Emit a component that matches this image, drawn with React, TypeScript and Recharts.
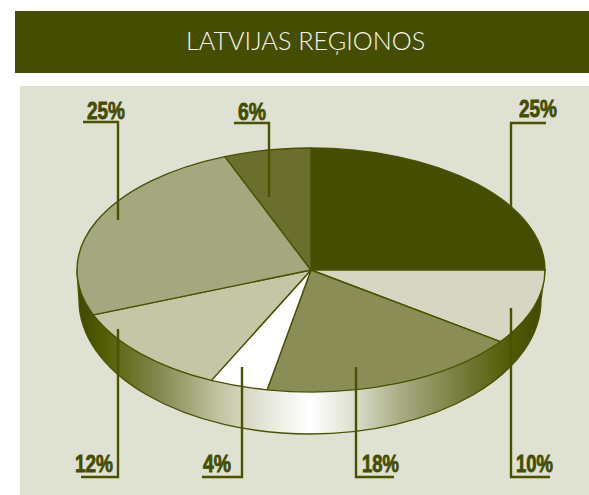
import React from "react";
import { PieChart, Pie, Cell } from "recharts";

const regions = ["A", "B", "C", "D", "E", "F", "G"];
const shares = [25, 10, 18, 4, 12, 25, 6];
const sliceColors = ["#454d00", "#d5d7c2", "#8a8d56", "#ffffff", "#c4c6a6", "#a4a87e", "#6b6f2d"];
const title = "LATVIJAS REĢIONOS";
const rimData = [{ name: "rim", value: 1 }];

const data = regions.map((name, i) => ({ name, value: shares[i] }));

const INK = "#4a5200";
const CX = 311;
const CY = 270;
const RX = 234;
const SQUASH = 122 / 234;

// leader layout per slice: elbow x, elbow y, tip y, far end of the shelf, text left, baseline y, text width
const leaders = [
  { x: 511, y: 123, tipY: 210, endX: 546, textX: 519, textY: 117, w: 38 },
  { x: 511, y: 477, tipY: 308, endX: 550, textX: 516, textY: 472, w: 37 },
  { x: 356, y: 477, tipY: 367, endX: 394, textX: 362, textY: 472, w: 37 },
  { x: 242, y: 477, tipY: 367, endX: 202, textX: 203, textY: 472, w: 28 },
  { x: 118, y: 477, tipY: 329, endX: 81, textX: 75, textY: 472, w: 38 },
  { x: 118, y: 122, tipY: 220, endX: 83, textX: 87, textY: 119, w: 38 },
  { x: 269, y: 123, tipY: 197, endX: 234, textX: 238, textY: 120, w: 28 },
];

const pt = (cx: number, cy: number, r: number, deg: number) => {
  const a = (deg * Math.PI) / 180;
  return [cx + r * Math.cos(a), cy - r * SQUASH * Math.sin(a)];
};

const EllipseSlice = (p: any) => {
  const { cx, cy, outerRadius: r, startAngle, endAngle, fill } = p;
  const [x0, y0] = pt(cx, cy, r, startAngle);
  const [x1, y1] = pt(cx, cy, r, endAngle);
  const large = Math.abs(startAngle - endAngle) > 180 ? 1 : 0;
  return (
    <path
      d={`M${cx},${cy}L${x0},${y0}A${r},${r * SQUASH} 0 ${large} 1 ${x1},${y1}Z`}
      fill={fill}
      stroke={INK}
      strokeWidth={1.4}
      strokeLinejoin="round"
    />
  );
};

const Rim = (p: any) => {
  const { cx, cy, outerRadius: r } = p;
  const lowA = r - 3;
  const lowB = 134;
  const lowY = cy + 30;
  const cxLow = cx - 1;
  return (
    <path
      d={`M${cx + r},${cy}L${cxLow + lowA},${lowY}A${lowA},${lowB} 0 0 1 ${cxLow - lowA},${lowY}L${cx - r},${cy}Z`}
      fill="url(#rimGradient)"
      stroke={INK}
      strokeWidth={1.4}
    />
  );
};

const Leader = (p: any) => {
  const l = leaders[p.index];
  return (
    <g>
      <path
        d={`M${l.x},${l.tipY}L${l.x},${l.y}L${l.endX},${l.y}`}
        fill="none"
        stroke={INK}
        strokeWidth={2.4}
      />
      <text
        x={l.textX}
        y={l.textY}
        textAnchor="start"
        fill="#454d00"
        stroke="#454d00"
        strokeWidth={0.8}
        fontFamily="'Liberation Sans', sans-serif"
        fontWeight={700}
        fontSize={23.5}
        textLength={l.w}
        lengthAdjust="spacingAndGlyphs"
      >
        {`${p.value}%`}
      </text>
    </g>
  );
};

export default function App() {
  return (
    <div style={{ position: "absolute", left: 0, top: 0, width: 589, height: 495, background: "#fff", overflow: "hidden" }}>
      <div
        style={{
          position: "absolute",
          left: 15,
          top: 11,
          width: 574,
          height: 62,
          background: "#454d00",
          color: "#f5f5ee",
          fontFamily: "Lato, 'Open Sans', sans-serif",
          fontWeight: 300,
          fontSize: 25.2,
          lineHeight: "59px",
        }}
      >
        <span style={{ position: "absolute", left: 171, whiteSpace: "nowrap" }}>{title}</span>
      </div>
      <div style={{ position: "absolute", left: 20, top: 86, width: 569, height: 409, background: "#dfe1d3" }} />
      <div style={{ position: "absolute", left: 0, top: 0 }}>
        <PieChart width={589} height={495} margin={{ top: 0, right: 0, bottom: 0, left: 0 }}>
          <defs>
            <linearGradient id="rimGradient" x1="0" y1="0" x2="1" y2="0">
              <stop offset="0" stopColor="#3f4700" />
              <stop offset="0.05" stopColor="#505a00" />
              <stop offset="0.19" stopColor="#8a8e58" />
              <stop offset="0.3" stopColor="#c0c3a0" />
              <stop offset="0.41" stopColor="#e8e9dd" />
              <stop offset="0.5" stopColor="#ffffff" />
              <stop offset="0.59" stopColor="#dde0cf" />
              <stop offset="0.69" stopColor="#a8ac84" />
              <stop offset="0.84" stopColor="#6f7530" />
              <stop offset="0.93" stopColor="#505a00" />
              <stop offset="1" stopColor="#3f4700" />
            </linearGradient>
          </defs>
          <Pie
            data={rimData}
            dataKey="value"
            cx={CX}
            cy={CY}
            outerRadius={RX}
            startAngle={0}
            endAngle={-180}
            isAnimationActive={false}
            shape={Rim}
            label={false}
            labelLine={false}
          />
          <Pie
            data={data}
            dataKey="value"
            cx={CX}
            cy={CY}
            outerRadius={RX}
            startAngle={90}
            endAngle={-270}
            paddingAngle={0}
            isAnimationActive={false}
            shape={EllipseSlice}
            label={Leader}
            labelLine={false}
          >
            {data.map((d, i) => (
              <Cell key={d.name} fill={sliceColors[i]} />
            ))}
          </Pie>
        </PieChart>
      </div>
    </div>
  );
}
